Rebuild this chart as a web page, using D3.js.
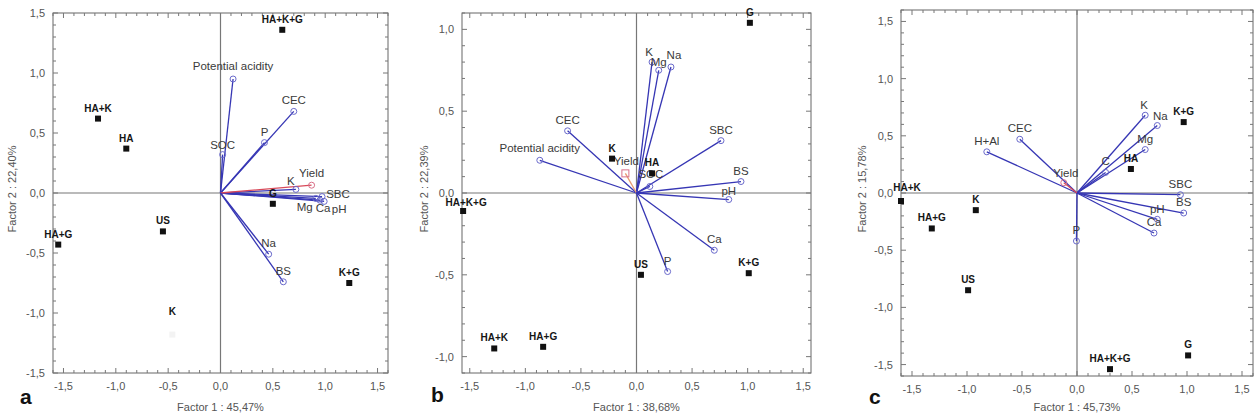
<!DOCTYPE html>
<html>
<head>
<meta charset="utf-8">
<script src="https://cdn.jsdelivr.net/npm/d3@7"></script>
<style>
  body { margin: 0; background: #fff; }
  svg { display: block; font-family: "Liberation Sans", Arial, sans-serif; }
</style>
</head>
<body>
<svg width="1254" height="419"></svg>
<script>
// treatments (observations) and soil variables (loadings), one set per panel
const obsA = [
  { name: 'HA+K+G', x: 0.59, y: 1.36 },
  { name: 'HA+K', x: -1.17, y: 0.62 },
  { name: 'HA', x: -0.90, y: 0.37 },
  { name: 'G', x: 0.50, y: -0.09 },
  { name: 'US', x: -0.55, y: -0.32 },
  { name: 'HA+G', x: -1.55, y: -0.43 },
  { name: 'K+G', x: 1.23, y: -0.75 },
  { name: 'K', x: -0.46, y: -1.18 }
]
const varsA = [
  { name: 'Potential acidity', x: 0.12, y: 0.95 },
  { name: 'CEC', x: 0.70, y: 0.68 },
  { name: 'P', x: 0.42, y: 0.42 },
  { name: 'SOC', x: 0.02, y: 0.32 },
  { name: 'K', x: 0.72, y: 0.03 },
  { name: 'Mg', x: 0.91, y: -0.045 },
  { name: 'Ca', x: 0.97, y: -0.03 },
  { name: 'SBC', x: 0.95, y: -0.06 },
  { name: 'pH', x: 0.99, y: -0.07 },
  { name: 'Yield', x: 0.87, y: 0.065 },
  { name: 'Na', x: 0.46, y: -0.51 },
  { name: 'BS', x: 0.60, y: -0.74 }
]

const obsB = [
  { name: 'G', x: 1.02, y: 1.04 },
  { name: 'K', x: -0.22, y: 0.21 },
  { name: 'HA', x: 0.14, y: 0.12 },
  { name: 'HA+K+G', x: -1.56, y: -0.11 },
  { name: 'US', x: 0.04, y: -0.50 },
  { name: 'K+G', x: 1.01, y: -0.49 },
  { name: 'HA+K', x: -1.28, y: -0.95 },
  { name: 'HA+G', x: -0.84, y: -0.94 }
]
const varsB = [
  { name: 'K', x: 0.14, y: 0.80 },
  { name: 'Mg', x: 0.20, y: 0.75 },
  { name: 'Na', x: 0.31, y: 0.77 },
  { name: 'CEC', x: -0.62, y: 0.38 },
  { name: 'Potential acidity', x: -0.87, y: 0.20 },
  { name: 'Yield', x: -0.10, y: 0.12 },
  { name: 'SOC', x: 0.12, y: 0.04 },
  { name: 'SBC', x: 0.76, y: 0.32 },
  { name: 'BS', x: 0.94, y: 0.07 },
  { name: 'pH', x: 0.83, y: -0.04 },
  { name: 'Ca', x: 0.70, y: -0.35 },
  { name: 'P', x: 0.28, y: -0.48 }
]

const obsC = [
  { name: 'K+G', x: 0.97, y: 0.62 },
  { name: 'HA', x: 0.49, y: 0.21 },
  { name: 'HA+K', x: -1.60, y: -0.07 },
  { name: 'K', x: -0.92, y: -0.15 },
  { name: 'HA+G', x: -1.32, y: -0.31 },
  { name: 'US', x: -0.99, y: -0.85 },
  { name: 'G', x: 1.01, y: -1.42 },
  { name: 'HA+K+G', x: 0.30, y: -1.54 }
]
const varsC = [
  { name: 'K', x: 0.62, y: 0.68 },
  { name: 'Na', x: 0.73, y: 0.59 },
  { name: 'Mg', x: 0.62, y: 0.38 },
  { name: 'C', x: 0.26, y: 0.18 },
  { name: 'H+Al', x: -0.82, y: 0.36 },
  { name: 'CEC', x: -0.52, y: 0.47 },
  { name: 'Yield', x: -0.12, y: 0.09 },
  { name: 'SBC', x: 0.94, y: -0.015 },
  { name: 'BS', x: 0.97, y: -0.175 },
  { name: 'pH', x: 0.73, y: -0.23 },
  { name: 'Ca', x: 0.70, y: -0.35 },
  { name: 'P', x: -0.005, y: -0.42 }
]

const xTicks = [-1.5, -1, -0.5, 0, 0.5, 1, 1.5]
const yTicksA = [-1.5, -1, -0.5, 0, 0.5, 1, 1.5]
const yTicksB = [-1, -0.5, 0, 0.5, 1]
const yTicksC = [-1.5, -1, -0.5, 0, 0.5, 1, 1.5]

// label nudges [dx, dy] from the arrow tip (default [0, -7])
const nudgeA = { 'Potential acidity': [0, -9], K: [-5, -4], Yield: [0, -8], SBC: [18, -2], Mg: [-11, 13], Ca: [1, 15], pH: [15, 12], SOC: [0, -6] }
const nudgeB = { K: [-3, -6], Mg: [0, -4], Na: [3, -8], Yield: [1, -8], SOC: [1, -8], pH: [0, -5], 'Potential acidity': [0, -8] }
const nudgeC = { K: [-1, -6], Na: [3, -6], Yield: [2, -6], pH: [0, -6], BS: [0, -7] }
// treatment label nudges (default [0, -7])
const obsNudgeB = { 'HA+K+G': [3, -5] }
const obsNudgeC = { 'HA+K': [6, -10] }

const panels = [
  { tag: 'a', box: [53, 13, 388, 373], xd: [-1.6, 1.6], yd: [-1.5, 1.5], yt: yTicksA, xTitle: 'Factor 1 : 45,47%', yTitle: 'Factor 2 : 22,40%', obs: obsA, vars: varsA, nudge: nudgeA, obsNudge: {}, letter: [20, 404], yTx: 12 },
  { tag: 'b', box: [462, 13, 811, 373], xd: [-1.57, 1.57], yd: [-1.1, 1.1], yt: yTicksB, xTitle: 'Factor 1 : 38,68%', yTitle: 'Factor 2 : 22,39%', obs: obsB, vars: varsB, nudge: nudgeB, obsNudge: obsNudgeB, letter: [431, 402], yTx: 424 },
  { tag: 'c', box: [901, 10, 1253, 376], xd: [-1.6, 1.6], yd: [-1.6, 1.6], yt: yTicksC, xTitle: 'Factor 1 : 45,73%', yTitle: 'Factor 2 : 15,78%', obs: obsC, vars: varsC, nudge: nudgeC, obsNudge: obsNudgeC, letter: [869, 404], yTx: 862 }
]

const svg = d3.select('svg')
const fmt = v => d3.format('.1f')(v).replace('.', ',').replace('−', '-')
const blue = '#3636b4'
const faint = { a: ['K'] }

panels.forEach(p => {
  const [x0, y0, x1, y1] = p.box
  const x = d3.scaleLinear().domain(p.xd).range([x0, x1])
  const y = d3.scaleLinear().domain(p.yd).range([y1, y0])
  const g = svg.append('g')

  // frame
  g.append('rect').
    attr('x', x0).attr('y', y0).
    attr('width', x1 - x0).attr('height', y1 - y0).
    attr('fill', 'none').attr('stroke', '#666').attr('stroke-width', 1)

  // inward ticks on all four sides
  const minorX = d3.range(Math.ceil(p.xd[0] * 10), Math.floor(p.xd[1] * 10) + 1).map(d => d / 10)
  const minorY = d3.range(Math.ceil(p.yd[0] * 10), Math.floor(p.yd[1] * 10) + 1).map(d => d / 10)
  const isMajor = v => Math.abs(v * 2 - Math.round(v * 2)) < 1e-6
  const tk = g.append('g').attr('stroke', '#777').attr('stroke-width', 1)
  minorX.forEach(v => {
    const len = isMajor(v) ? 5 : 3
    tk.append('line').attr('x1', x(v)).attr('x2', x(v)).attr('y1', y1).attr('y2', y1 - len)
    tk.append('line').attr('x1', x(v)).attr('x2', x(v)).attr('y1', y0).attr('y2', y0 + len)
  })
  minorY.forEach(v => {
    const len = isMajor(v) ? 5 : 3
    tk.append('line').attr('y1', y(v)).attr('y2', y(v)).attr('x1', x0).attr('x2', x0 + len)
    tk.append('line').attr('y1', y(v)).attr('y2', y(v)).attr('x1', x1).attr('x2', x1 - len)
  })

  // zero lines
  g.append('line').attr('x1', x(0)).attr('x2', x(0)).attr('y1', y0).attr('y2', y1).
    attr('stroke', '#777').attr('stroke-width', 1.2)
  g.append('line').attr('x1', x0).attr('x2', x1).attr('y1', y(0)).attr('y2', y(0)).
    attr('stroke', '#777').attr('stroke-width', 1.2)

  // tick labels
  g.selectAll('.xl').data(xTicks).enter().append('text').
    attr('x', d => x(d)).attr('y', y1 + 17).
    attr('text-anchor', 'middle').attr('font-size', 11).attr('fill', '#555').
    text(fmt)
  g.selectAll('.yl').data(p.yt).enter().append('text').
    attr('x', x0 - 8).attr('y', d => y(d) + 4).
    attr('text-anchor', 'end').attr('font-size', 11).attr('fill', '#555').
    text(fmt)

  // axis titles and panel letter
  g.append('text').attr('x', x(0)).attr('y', 411).
    attr('text-anchor', 'middle').attr('font-size', 11).attr('fill', '#555').
    text(p.xTitle)
  g.append('text').
    attr('transform', `translate(${p.yTx},${(y0 + y1) / 2 - 4}) rotate(-90)`).
    attr('dy', '0.35em').
    attr('text-anchor', 'middle').attr('font-size', 11).attr('fill', '#555').
    text(p.yTitle)
  g.append('text').attr('x', p.letter[0]).attr('y', p.letter[1]).
    attr('font-size', 21).attr('font-weight', 'bold').attr('fill', '#111').
    text(p.tag)

  // loading vectors
  const isYield = d => d.name === 'Yield'
  g.selectAll('.vec').data(p.vars).enter().append('line').
    attr('x1', x(0)).attr('y1', y(0)).
    attr('x2', d => x(d.x)).attr('y2', d => y(d.y)).
    attr('stroke', d => isYield(d) ? (p.tag === 'b' ? '#e89a70' : '#d84a5a') : blue).
    attr('stroke-width', 1.3)
  p.vars.forEach(d => {
    const col = isYield(d) ? '#d8708a' : '#6a6acc'
    if (isYield(d) && p.tag === 'b') {
      g.append('rect').attr('x', x(d.x) - 3.5).attr('y', y(d.y) - 3.5).
        attr('width', 7).attr('height', 7).attr('fill', 'none').attr('stroke', col)
    } else {
      g.append('circle').attr('cx', x(d.x)).attr('cy', y(d.y)).attr('r', 3).
        attr('fill', 'none').attr('stroke', col).attr('stroke-width', 1)
    }
  })
  g.selectAll('.vl').data(p.vars).enter().append('text').
    attr('x', d => x(d.x) + (p.nudge[d.name] || [0, -7])[0]).
    attr('y', d => y(d.y) + (p.nudge[d.name] || [0, -7])[1]).
    attr('text-anchor', 'middle').attr('font-size', 11.5).attr('fill', '#3a3a3a').
    text(d => d.name)

  // treatment points
  const hidden = faint[p.tag] || []
  g.selectAll('.pt').data(p.obs).enter().append('rect').
    attr('x', d => x(d.x) - 3).attr('y', d => y(d.y) - 3).
    attr('width', 6).attr('height', 6).
    attr('fill', d => hidden.includes(d.name) ? '#f3f3f3' : '#111')
  g.selectAll('.pl').data(p.obs).enter().append('text').
    attr('x', d => x(d.x) + (p.obsNudge[d.name] || [0, 0])[0]).
    attr('y', d => y(d.y) + (hidden.includes(d.name) ? -20 : (p.obsNudge[d.name] || [0, -7])[1])).
    attr('text-anchor', 'middle').attr('font-size', 10).attr('font-weight', 'bold').
    attr('fill', '#151515').
    text(d => d.name)
})
</script>
</body>
</html>
